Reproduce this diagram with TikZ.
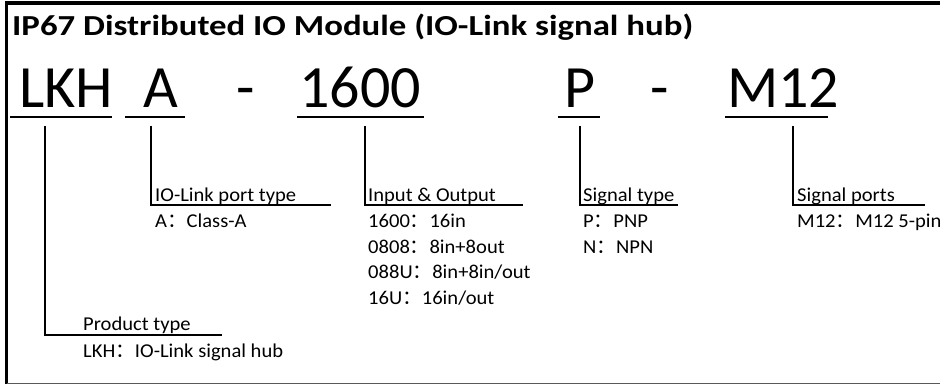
\documentclass[tikz,border=0pt]{standalone}
\usepackage{fontspec}
\setmainfont{Carlito}
\newfontfamily\ttlfont[FakeStretch=1.2]{Carlito}
\newfontfamily\lblfont[FakeStretch=1.05]{Carlito}
\newfontfamily\cjk{Noto Sans CJK SC}
\newcommand{\fc}{{\cjk ：}}
\begin{document}
\begin{tikzpicture}[x=1pt,y=-1pt,
  code/.style={font=\fontsize{60}{60}\selectfont, anchor=base west, inner sep=0pt},
  ttl/.style={font=\ttlfont\bfseries\fontsize{29}{30}\selectfont, anchor=base west, inner sep=0pt},
  lbl/.style={font=\lblfont\fontsize{19.6}{20}\selectfont, anchor=base west, inner sep=0pt},
  ul/.style={line width=2pt},
  lead/.style={line width=2.4pt}]
\useasboundingbox (0,0) rectangle (940,385);
% frame
\draw[line width=4pt] (6.5,3) -- (945,3);
\draw[line width=3pt] (6.5,1) -- (6.5,384);
\draw[line width=1.5pt, gray!70!black] (6.5,383.5) -- (945,383.5);
% title
\node[ttl] (title) at (12,36) {IP67 Distributed IO Module (IO-Link signal hub)};
% code
\node[code] (lkh) at (19,108) {LKH};
\node[code] (a) at (143,108) {A};
\node[code] (d1) at (236,108) {-};
\node[code] (n1600) at (299,108) {1600};
\node[code] (p) at (564,108) {P};
\node[code] (d2) at (650,108) {-};
\node[code] (m12) at (727,108) {M12};
% underlines
\draw[ul] (10,117) -- (112,117);
\draw[ul] (125,117) -- (185,117);
\draw[ul] (297,117) -- (424,117);
\draw[ul] (558,117) -- (600,117);
\draw[ul] (725,117) -- (828,117);
% labels
\node[lbl] (ptype) at (83,330) {Product type};
\node[lbl] (pval) at (83,357) {LKH\fc IO-Link signal hub};
\node[lbl] (iotype) at (155,201) {IO-Link port type};
\node[lbl] (ioval) at (155,227) {A\fc Class-A};
\node[lbl] (inout) at (368,201) {Input \& Output};
\node[lbl] (io1) at (368,227) {1600\fc 16in};
\node[lbl] (io2) at (368,253) {0808\fc 8in+8out};
\node[lbl] (io3) at (368,278) {088U\fc 8in+8in/out};
\node[lbl] (io4) at (368,304) {16U\fc 16in/out};
\node[lbl] (stype) at (583,201) {Signal type};
\node[lbl] (s1) at (583,227) {P\fc PNP};
\node[lbl] (s2) at (583,253) {N\fc NPN};
\node[lbl] (sports) at (797,201) {Signal ports};
\node[lbl] (sp1) at (797,227) {M12\fc M12 5-pin};
% leaders
\draw[lead] (45,126) -- (45,335) -- (222,335);
\draw[lead] (151,126) -- (151,205) -- (331,205);
\draw[lead] (365,126) -- (365,205) -- (523,205);
\draw[lead] (580,126) -- (580,205) -- (678,205);
\draw[lead] (793,126) -- (793,205) -- (925,205);
\end{tikzpicture}
\end{document}
